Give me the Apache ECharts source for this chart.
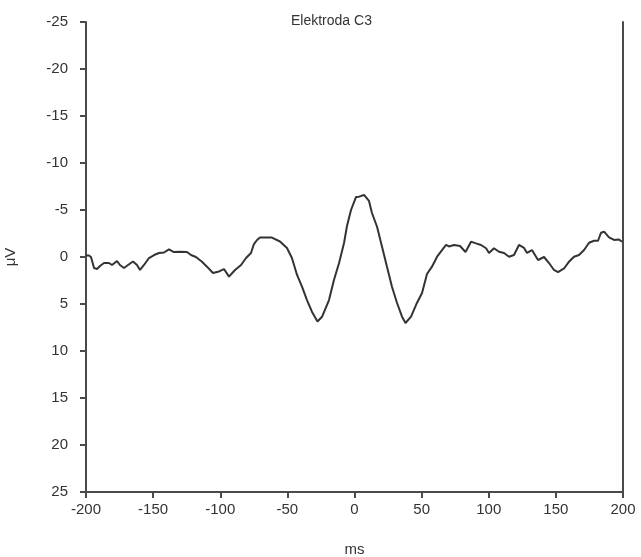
<!DOCTYPE html>
<html>
<head>
<meta charset="utf-8">
<script src="https://cdn.jsdelivr.net/npm/echarts@6/dist/echarts.min.js"></script>
<style>
  html, body { margin: 0; padding: 0; background: #fff; }
  #chart { width: 641px; height: 557px; }
</style>
</head>
<body>
<div id="chart"></div>
<script>
// time (ms) and amplitude (µV)
var timeMs = [
  -200.0, -197.8, -196.3, -194.0, -191.8, -189.6, -186.6, -182.9, -180.6, -176.9,
  -174.7, -171.7, -168.7, -165.0, -162.0, -159.8, -156.8, -153.1, -149.3, -145.6,
  -141.9, -138.2, -134.5, -130.0, -124.8, -121.8, -118.1, -113.6, -109.9, -105.4,
  -100.9, -97.2, -93.5, -89.0, -84.5, -80.8, -77.1, -74.9, -72.6, -70.4,
  -65.9, -61.5, -55.5, -50.3, -46.6, -42.8, -39.1, -35.4, -31.7, -27.6,
  -24.2, -19.0, -15.3, -11.5, -7.8, -5.6, -2.6, 1.1, 3.4, 7.1,
  10.8, 13.0, 16.8, 20.5, 24.2, 27.9, 31.7, 35.4, 38.0, 42.1,
  46.5, 50.3, 54.0, 57.7, 61.5, 65.2, 68.2, 70.4, 74.1, 78.6,
  82.7, 86.8, 90.5, 94.2, 98.0, 100.2, 103.9, 107.6, 111.4, 115.1,
  118.8, 122.5, 126.3, 128.5, 132.2, 136.7, 141.2, 144.9, 148.6, 151.6,
  156.1, 159.8, 163.5, 167.2, 171.0, 174.7, 178.4, 181.4, 183.6, 185.9,
  189.6, 193.3, 197.0, 199.3
];
var amplitude = [
  -0.16, -0.16, 0.00, 1.17, 1.28, 0.96, 0.64, 0.64, 0.85, 0.43,
  0.85, 1.17, 0.85, 0.48, 0.85, 1.38, 0.85, 0.11, -0.21, -0.43,
  -0.48, -0.82, -0.53, -0.56, -0.53, -0.21, 0.00, 0.50, 1.03, 1.70,
  1.54, 1.28, 2.09, 1.38, 0.85, 0.11, -0.43, -1.38, -1.81, -2.07,
  -2.07, -2.07, -1.65, -0.96, 0.11, 1.91, 3.16, 4.58, 5.82, 6.86,
  6.36, 4.58, 2.45, 0.64, -1.49, -3.30, -5.00, -6.38, -6.42, -6.60,
  -5.96, -4.68, -3.22, -1.08, 1.03, 3.16, 4.89, 6.35, 7.02, 6.35,
  4.89, 3.83, 1.81, 1.03, -0.03, -0.74, -1.28, -1.12, -1.28, -1.17,
  -0.53, -1.63, -1.45, -1.28, -0.93, -0.43, -0.93, -0.56, -0.43, -0.03,
  -0.21, -1.28, -0.96, -0.43, -0.74, 0.32, 0.00, 0.64, 1.38, 1.60,
  1.22, 0.50, -0.03, -0.21, -0.74, -1.52, -1.73, -1.73, -2.58, -2.69,
  -2.09, -1.81, -1.86, -1.62
];

var xTicks = { min: -200, max: 200, step: 50 };
var yTicks = { min: -25, max: 25, step: 5 };

var axisColor = '#4a4a4a';
var textColor = '#333';
var fontFamily = 'Liberation Sans, Arial, sans-serif';

var points = timeMs.map(function (t, i) { return [t, amplitude[i]]; });

var chart = echarts.init(document.getElementById('chart'));
chart.setOption({
  animation: false,
  title: {
    text: 'Elektroda C3',
    left: 286,
    top: 9,
    textStyle: { fontSize: 14, fontWeight: 'normal', color: textColor, fontFamily: fontFamily }
  },
  grid: { left: 86, right: 18, top: 22, bottom: 65, outerBoundsMode: 'none', containLabel: false },
  xAxis: {
    type: 'value',
    min: xTicks.min,
    max: xTicks.max,
    interval: xTicks.step,
    name: 'ms',
    nameLocation: 'middle',
    nameGap: 50,
    nameTextStyle: { fontSize: 15, color: textColor, fontFamily: fontFamily },
    axisLine: { show: true, onZero: false, lineStyle: { color: axisColor, width: 2 } },
    axisTick: { show: true, length: 6, lineStyle: { color: axisColor, width: 2 } },
    axisLabel: { fontSize: 15, color: textColor, fontFamily: fontFamily, margin: 10 },
    splitLine: { show: false }
  },
  yAxis: [{
    type: 'value',
    inverse: true,
    min: yTicks.min,
    max: yTicks.max,
    interval: yTicks.step,
    name: 'μV',
    nameLocation: 'middle',
    nameGap: 68,
    nameRotate: 90,
    nameTextStyle: { fontSize: 15, color: textColor, fontFamily: fontFamily },
    axisLine: { show: true, onZero: false, lineStyle: { color: axisColor, width: 2 } },
    axisTick: { show: true, length: 6, lineStyle: { color: axisColor, width: 2 } },
    axisLabel: { fontSize: 15, color: textColor, fontFamily: fontFamily, margin: 18 },
    splitLine: { show: false }
  }, {
    type: 'value',
    position: 'right',
    inverse: true,
    min: yTicks.min,
    max: yTicks.max,
    interval: yTicks.step,
    axisLine: { show: true, onZero: false, lineStyle: { color: axisColor, width: 2 } },
    axisTick: { show: false },
    axisLabel: { show: false },
    splitLine: { show: false }
  }],
  series: [{
    type: 'line',
    data: points,
    showSymbol: false,
    lineStyle: { color: '#333', width: 2 }
  }]
});
</script>
</body>
</html>
